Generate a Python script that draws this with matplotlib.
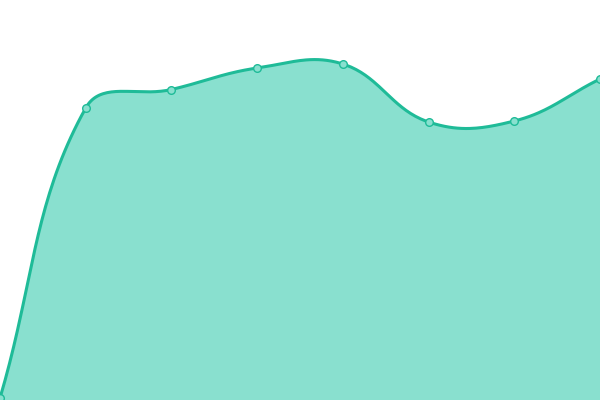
import numpy as np
import matplotlib.pyplot as plt

# values (0 = bottom, 400 = top)
categories = [0, 1, 2, 3, 4, 5, 6, 7]
values = [2, 292, 310.5, 332, 336, 278, 279, 321]

LINE = '#1fbb98'
FILL = '#89e0cf'


def spline(xs, ys, tension=0.4, n=40):
    # cardinal-ish bezier: control points from neighbours, weighted by segment length
    pts = np.column_stack([xs, ys]).astype(float)
    k = len(pts)
    cps = []
    for i in range(k):
        prev = pts[max(i - 1, 0)]
        cur = pts[i]
        nxt = pts[min(i + 1, k - 1)]
        d01 = np.hypot(*(cur - prev))
        d12 = np.hypot(*(nxt - cur))
        s = d01 + d12
        s01 = d01 / s if s else 0
        s12 = d12 / s if s else 0
        cps.append((cur - tension * s01 * (nxt - prev), cur + tension * s12 * (nxt - prev)))
    out = []
    t = np.linspace(0, 1, n)[:, None]
    for i in range(k - 1):
        p0, p3 = pts[i], pts[i + 1]
        p1, p2 = cps[i][1], cps[i + 1][0]
        seg = ((1 - t) ** 3) * p0 + 3 * ((1 - t) ** 2) * t * p1 + 3 * (1 - t) * t ** 2 * p2 + t ** 3 * p3
        out.append(seg if i == 0 else seg[1:])
    out = np.vstack(out)
    return out[:, 0], out[:, 1]


fig = plt.figure(figsize=(6, 4), dpi=100)
ax = fig.add_axes([0, 0, 1, 1])

# smoothing in pixel space so the curve shape matches
sx = np.array(categories) * 600 / 7
sy = np.array(values, dtype=float)
cx, cy = spline(sx, sy)
cx = cx * 7 / 600

ax.fill_between(cx, 0, cy, color=FILL, lw=0)
ax.plot(cx, cy, color=LINE, lw=2.2, solid_capstyle='round', zorder=3)
ax.plot(categories, values, 'o', ms=5.5, mfc=FILL, mec=LINE, mew=1, zorder=4)

ax.set_xlim(0, 7)
ax.set_ylim(0, 400)
ax.axis('off')

fig.savefig('out.png', dpi=100)
